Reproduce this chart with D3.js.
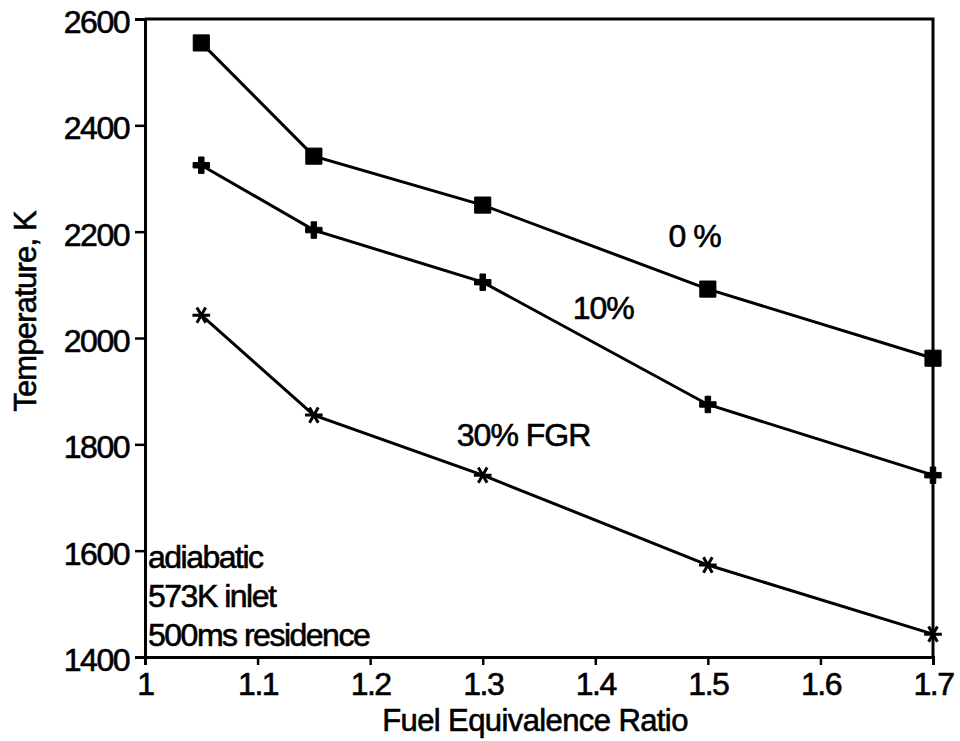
<!DOCTYPE html>
<html lang="en">

<head>
    <meta charset="UTF-8">
    <script src="https://d3js.org/d3.v7.min.js"></script>
    <title>FGR temperature</title>
    <style>
        body { margin: 0; background: #fff; }
        text { font-family: "Liberation Sans", Arial, Helvetica, sans-serif; fill: #000; stroke: #000; stroke-width: 0.6px; }
    </style>
</head>

<body>
    <div id="chart"></div>
    <script>
        // Data
        const phi = [1.05, 1.15, 1.3, 1.5, 1.7];
        const fgr0 = [2555, 2342, 2250, 2092, 1962];
        const fgr10 = [2325, 2203, 2105, 1875, 1742];
        const fgr30 = [2043, 1855, 1742, 1573, 1443];

        const xTicks = [1, 1.1, 1.2, 1.3, 1.4, 1.5, 1.6, 1.7];
        const yTicks = [1400, 1600, 1800, 2000, 2200, 2400, 2600];

        const seriesLabels = [
            { text: "0 %", x: 1.465, y: 2172 },
            { text: "10%", x: 1.38, y: 2036 },
            { text: "30% FGR", x: 1.277, y: 1797 }
        ];
        const notes = ["adiabatic", "573K inlet", "500ms residence"];

        // Chart dimensions
        const width = 960;
        const height = 741;
        const margin = { top: 19, right: 27, bottom: 84, left: 145 };

        const svg = d3.select("#chart")
            .append("svg")
            .attr("width", width)
            .attr("height", height);

        svg.append("rect")
            .attr("width", width)
            .attr("height", height)
            .attr("fill", "#fff");

        // Scales
        const x = d3.scaleLinear()
            .domain([1, 1.7])
            .range([margin.left, width - margin.right]);

        const y = d3.scaleLinear()
            .domain([1400, 2600])
            .range([height - margin.bottom, margin.top]);

        // Frame (top + right)
        svg.append("path")
            .attr("d", `M${x(1)},${y(2600)}H${x(1.7)}V${y(1400)}`)
            .attr("fill", "none")
            .attr("stroke", "#000")
            .attr("stroke-width", 3);

        // Axes
        const xAxis = svg.append("g")
            .attr("transform", `translate(0,${y(1400)})`)
            .call(d3.axisBottom(x)
                .tickValues(xTicks)
                .tickFormat(d => d === 1 ? "1" : d3.format(".1f")(d))
                .tickSize(8)
                .tickPadding(7));

        const yAxis = svg.append("g")
            .attr("transform", `translate(${x(1)},0)`)
            .call(d3.axisLeft(y)
                .tickValues(yTicks)
                .tickFormat(d3.format("d"))
                .tickSize(10)
                .tickPadding(6));

        [xAxis, yAxis].forEach(g => {
            g.select(".domain").attr("stroke-width", 3);
            g.selectAll(".tick line").attr("stroke-width", 2.5);
            g.selectAll(".tick text")
                .attr("font-size", 32)
                .attr("letter-spacing", -1.5)
                .attr("fill", "#000");
        });
        yAxis.selectAll(".tick text").attr("dy", "0.42em");

        // Axis titles
        svg.append("text")
            .attr("x", 535)
            .attr("y", 731)
            .attr("text-anchor", "middle")
            .attr("font-size", 31)
            .attr("letter-spacing", -0.6)
            .text("Fuel Equivalence Ratio");

        svg.append("text")
            .attr("transform", `translate(36,${y(2050)}) rotate(-90)`)
            .attr("text-anchor", "middle")
            .attr("font-size", 31)
            .attr("letter-spacing", -0.8)
            .text("Temperature, K");

        // Lines and markers
        const series = [
            { values: fgr0, symbol: d3.symbolSquare, size: 260, rotate: 0 },
            { values: fgr10, symbol: d3.symbolCross, size: 150, rotate: 0 },
            { values: fgr30, symbol: d3.symbolAsterisk, size: 220, rotate: 90 }
        ];

        const line = d3.line()
            .x((d, i) => x(phi[i]))
            .y(d => y(d));

        series.forEach(s => {
            svg.append("path")
                .datum(s.values)
                .attr("fill", "none")
                .attr("stroke", "#000")
                .attr("stroke-width", 3)
                .attr("d", line);

            const isStroke = s.symbol === d3.symbolAsterisk;
            svg.append("g")
                .selectAll("path")
                .data(s.values)
                .join("path")
                .attr("transform", (d, i) => `translate(${x(phi[i])},${y(d)}) rotate(${s.rotate})`)
                .attr("d", d3.symbol(s.symbol, s.size))
                .attr("fill", isStroke ? "none" : "#000")
                .attr("stroke", "#000")
                .attr("stroke-width", isStroke ? 3 : 1);
        });

        // Series labels
        svg.append("g")
            .selectAll("text")
            .data(seriesLabels)
            .join("text")
            .attr("x", d => x(d.x))
            .attr("y", d => y(d.y))
            .attr("font-size", 32)
            .attr("letter-spacing", -1)
            .text(d => d.text);

        // Conditions note
        svg.append("g")
            .selectAll("text")
            .data(notes)
            .join("text")
            .attr("x", x(1) + 3)
            .attr("y", (d, i) => y(1567) + i * 39)
            .attr("font-size", 32)
            .attr("letter-spacing", -1.5)
            .text(d => d);
    </script>
</body>

</html>
